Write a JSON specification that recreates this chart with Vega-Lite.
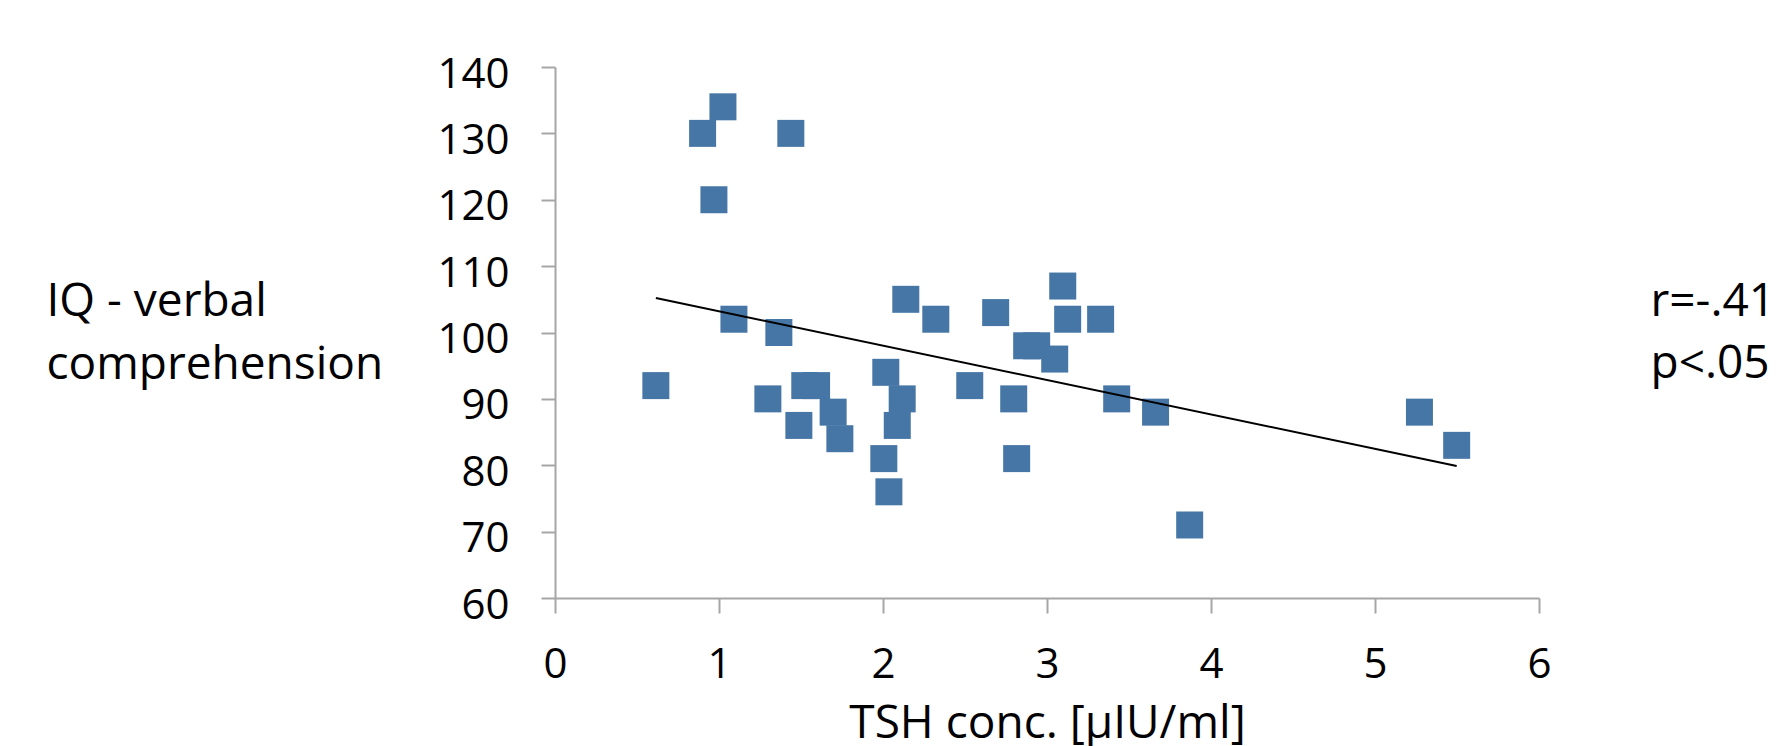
{
  "$schema": "https://vega.github.io/schema/vega-lite/v6.json",
  "width": 984,
  "height": 531,
  "autosize": {"type": "none"},
  "padding": {"left": 555, "top": 67, "right": 247, "bottom": 148},
  "background": "white",
  "config": {
    "view": {"stroke": null},
    "font": "Open Sans",
    "axis": {"grid": false}
  },
  "datasets": {
    "points": [
      {"tsh": 0.615, "iq": 92},
      {"tsh": 0.90, "iq": 130},
      {"tsh": 0.969, "iq": 120},
      {"tsh": 1.024, "iq": 134},
      {"tsh": 1.091, "iq": 102},
      {"tsh": 1.298, "iq": 90},
      {"tsh": 1.365, "iq": 100},
      {"tsh": 1.438, "iq": 130},
      {"tsh": 1.487, "iq": 86},
      {"tsh": 1.523, "iq": 92},
      {"tsh": 1.595, "iq": 92},
      {"tsh": 1.696, "iq": 88},
      {"tsh": 1.737, "iq": 84},
      {"tsh": 2.005, "iq": 81},
      {"tsh": 2.017, "iq": 94},
      {"tsh": 2.036, "iq": 76},
      {"tsh": 2.087, "iq": 86},
      {"tsh": 2.117, "iq": 90},
      {"tsh": 2.139, "iq": 105},
      {"tsh": 2.322, "iq": 102},
      {"tsh": 2.529, "iq": 92},
      {"tsh": 2.687, "iq": 103},
      {"tsh": 2.797, "iq": 90},
      {"tsh": 2.815, "iq": 81},
      {"tsh": 2.876, "iq": 98},
      {"tsh": 2.937, "iq": 98},
      {"tsh": 3.047, "iq": 96},
      {"tsh": 3.096, "iq": 107},
      {"tsh": 3.126, "iq": 102},
      {"tsh": 3.327, "iq": 102},
      {"tsh": 3.425, "iq": 90},
      {"tsh": 3.662, "iq": 88},
      {"tsh": 3.870, "iq": 71},
      {"tsh": 5.271, "iq": 88},
      {"tsh": 5.498, "iq": 83}
    ],
    "trend": [
      {"tsh": 0.615, "iq": 105.2},
      {"tsh": 5.498, "iq": 79.9}
    ]
  },
  "layer": [
    {
      "data": {"name": "points"},
      "mark": {"type": "point", "shape": "square", "filled": true, "size": 729, "color": "#4676a6", "opacity": 1, "strokeWidth": 0},
      "encoding": {
        "x": {
          "field": "tsh", "type": "quantitative",
          "scale": {"domain": [0, 6], "nice": false, "zero": false},
          "axis": {
            "values": [0, 1, 2, 3, 4, 5, 6],
            "format": "d",
            "labelFlush": false,
            "title": "TSH conc. [μIU/ml]",
            "titleFont": "Open Sans", "titleFontSize": 46, "titleFontWeight": "normal", "titleColor": "black",
            "titleBaseline": "alphabetic", "titleY": 139,
            "labelFont": "Open Sans", "labelFontSize": 42, "labelColor": "black",
            "labelBaseline": "alphabetic", "labelPadding": 64,
            "tickSize": 15, "tickColor": "#a6a6a6", "tickWidth": 2,
            "domainColor": "#a6a6a6", "domainWidth": 2
          }
        },
        "y": {
          "field": "iq", "type": "quantitative",
          "scale": {"domain": [60, 140], "nice": false, "zero": false},
          "axis": {
            "values": [60, 70, 80, 90, 100, 110, 120, 130, 140],
            "labelFlush": false,
            "title": ["IQ - verbal", "comprehension"],
            "titleFont": "Open Sans", "titleFontSize": 46, "titleFontWeight": "normal", "titleColor": "black",
            "titleAngle": 0, "titleAlign": "left", "titleBaseline": "alphabetic",
            "titleX": -509, "titleY": 248, "titleLineHeight": 63,
            "labelFont": "Open Sans", "labelFontSize": 42, "labelColor": "black",
            "labelBaseline": "alphabetic", "labelOffset": 20, "labelPadding": 32,
            "tickSize": 14, "tickColor": "#a6a6a6", "tickWidth": 2,
            "domainColor": "#a6a6a6", "domainWidth": 2
          }
        }
      }
    },
    {
      "data": {"name": "trend"},
      "mark": {"type": "line", "color": "black", "strokeWidth": 2},
      "encoding": {
        "x": {"field": "tsh", "type": "quantitative"},
        "y": {
          "field": "iq", "type": "quantitative",
          "scale": {"domain": [60, 140], "nice": false, "zero": false},
          "axis": {
            "orient": "right",
            "labels": false, "ticks": false, "domain": false, "grid": false,
            "title": ["r=-.41", "p<.05"],
            "titleFont": "Open Sans", "titleFontSize": 46, "titleFontWeight": "normal", "titleColor": "black",
            "titleAngle": 0, "titleAlign": "left", "titleBaseline": "alphabetic",
            "titleX": 111, "titleY": 248, "titleLineHeight": 62
          }
        }
      }
    }
  ],
  "resolve": {"scale": {"y": "independent"}, "axis": {"y": "independent"}}
}
